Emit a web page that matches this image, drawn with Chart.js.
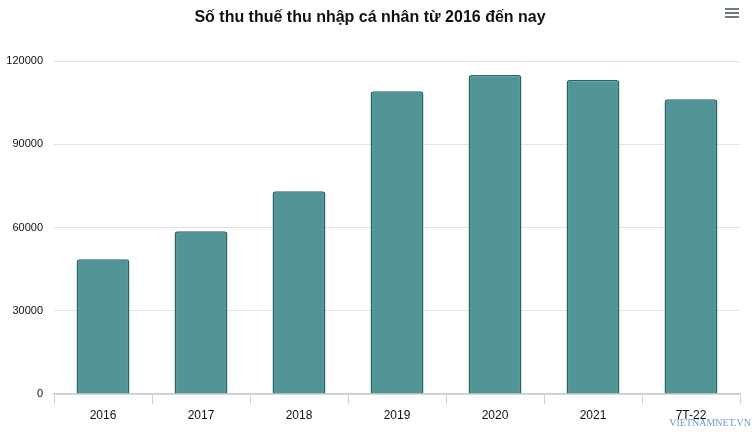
<!DOCTYPE html>
<html>
<head>
<meta charset="utf-8">
<script src="https://cdn.jsdelivr.net/npm/chart.js@4/dist/chart.umd.min.js"></script>
<style>
  html, body { margin: 0; padding: 0; background: #fff; }
  #wrap { width: 752px; height: 446px; }
</style>
</head>
<body>
<div id="wrap"><canvas id="taxChart" width="752" height="446"></canvas></div>
<script>
// dữ liệu
const categories = ["2016", "2017", "2018", "2019", "2020", "2021", "7T-22"];
const taxValues = [48600, 58700, 73100, 109200, 115000, 113200, 106300];
const yTicks = [0, 30000, 60000, 90000, 120000];

// menu icon + watermark
const extras = {
    id: "extras",
    afterDraw(chart) {
        const c = chart.ctx;
        c.save();
        c.fillStyle = "#6e7b86";
        [8, 12, 16].forEach(y => c.fillRect(725, y, 14, 2));
        c.font = "10px 'Liberation Serif', 'DejaVu Serif', serif";
        c.fillStyle = "#6c9dc6";
        c.textAlign = "right";
        c.textBaseline = "middle";
        c.fillText("VIETNAMNET.VN", 751, 423);
        c.restore();
    }
};

const ctx = document.getElementById("taxChart").getContext("2d");
const taxChart = new Chart(ctx, {
    type: "bar",
    data: {
        labels: categories,
        datasets: [{
            label: "Số thu thuế thu nhập cá nhân",
            data: taxValues,
            backgroundColor: "#529596",
            borderColor: "#2b6566",
            borderWidth: 1.5,
            borderRadius: 3,
            borderSkipped: "bottom",
            categoryPercentage: 0.54,
            barPercentage: 1
        }]
    },
    options: {
        responsive: false,
        animation: false,
        layout: { padding: { left: 0, right: 12, top: 0, bottom: 12 } },
        plugins: {
            legend: { display: false },
            tooltip: { enabled: false },
            title: {
                display: true,
                text: "Số thu thuế thu nhập cá nhân từ 2016 đến nay",
                color: "#111",
                font: { family: "'Liberation Sans', Arial, sans-serif", size: 16, weight: "bold" },
                padding: { top: 8, bottom: 34 }
            }
        },
        scales: {
            x: {
                grid: {
                    offset: true,
                    drawOnChartArea: false,
                    tickLength: 10,
                    color: "#d0d0d0"
                },
                border: { color: "#cccccc", width: 1.5 },
                ticks: {
                    color: "#111",
                    padding: 4,
                    font: { family: "'Liberation Sans', Arial, sans-serif", size: 12 }
                },
                afterFit(scale) { scale.height = 40; }
            },
            y: {
                min: 0,
                max: 120000,
                afterBuildTicks(scale) { scale.ticks = yTicks.map(v => ({ value: v })); },
                grid: { color: "#e2e2e2", drawTicks: false },
                border: { display: false },
                ticks: {
                    color: "#111",
                    padding: 11,
                    callback: v => String(v),
                    font: { family: "'Liberation Sans', Arial, sans-serif", size: 11 }
                },
                afterFit(scale) { scale.width = 54; }
            }
        }
    },
    plugins: [extras]
});
</script>
</body>
</html>
